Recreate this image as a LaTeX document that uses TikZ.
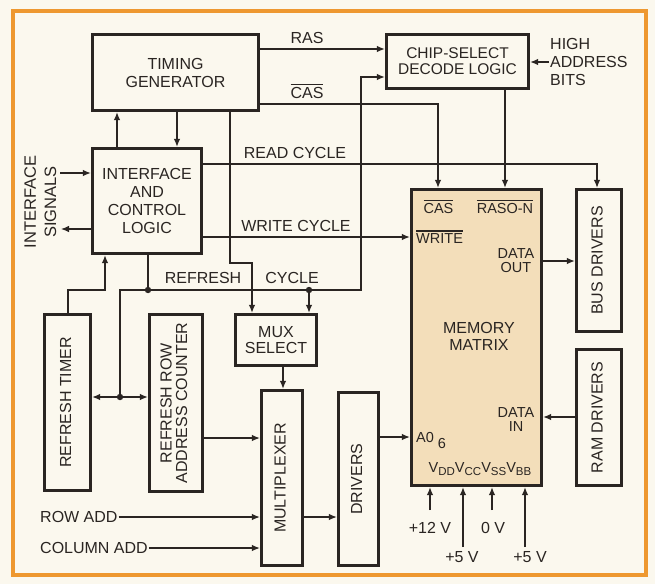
\documentclass[tikz,border=0pt]{standalone}
\usepackage{fontspec}
\setmainfont{Liberation Sans}
\usepackage{graphicx}
\usetikzlibrary{arrows.meta}
\definecolor{ink}{RGB}{42,37,34}
\definecolor{cream}{RGB}{251,248,238}
\definecolor{frame}{RGB}{238,152,48}
\definecolor{memfill}{RGB}{243,222,186}
\newcommand\ovl[1]{\vbox{\hrule height 1.1pt\kern 2pt\hbox{#1}}}
\newcommand\rot[1]{\rotatebox{90}{\begin{tabular}{@{}c@{}}#1\end{tabular}}}
\newcommand\vsub[1]{V\raisebox{-3.5pt}{\fontsize{11.5}{11.5}\selectfont #1}}
\newcommand\fbig{\fontsize{16}{18}\selectfont}
\newcommand\fsmall{\fontsize{14.5}{14}\selectfont}
\tikzset{
  blk/.style={draw=ink, line width=3.4pt, fill=cream, inner sep=0pt, align=center, font=\fbig, text=ink},
  conn/.style={draw=ink, line width=1.1pt},
  arr/.style={conn, -{Latex[length=8pt,width=6.5pt]}},
  lbl/.style={font=\fbig, text=ink, inner sep=1pt},
  mlbl/.style={font=\fsmall, text=ink, inner sep=0pt, align=center},
}
\begin{document}
\begin{tikzpicture}[x=1pt,y=-1pt]
\fill[cream] (0,0) rectangle (655,584);
\useasboundingbox (0,0) rectangle (655,584);
\draw[frame, line width=4pt] (13.3,11.3) rectangle (645.8,574.5);

% blocks
\node[blk, minimum width=166, minimum height=76] (tg) at (175.5,72.5) {TIMING\\GENERATOR};
\node[blk, minimum width=142, minimum height=54, font=\fontsize{15.5}{16}\selectfont] (cs) at (457.5,61.5) {CHIP-SELECT\\DECODE LOGIC};
\node[blk, minimum width=109, minimum height=105] (icl) at (147,201) {INTERFACE\\AND\\CONTROL\\LOGIC};
\node[blk, fill=memfill, minimum width=130, minimum height=296] (mem) at (476.5,337.5) {};
\node[blk, minimum width=45, minimum height=142] (bus) at (599,260.5) {\rot{BUS DRIVERS}};
\node[blk, minimum width=45, minimum height=136] (ram) at (599,417.5) {\rot{RAM DRIVERS}};
\node[blk, minimum width=46, minimum height=176] (rt) at (67.5,402.5) {\rot{REFRESH TIMER}};
\node[blk, minimum width=53, minimum height=177, font=\fontsize{16}{14.5}\selectfont] (rrac) at (176,403) {\rot{REFRESH ROW\\ADDRESS COUNTER}};
\node[blk, minimum width=81, minimum height=51, font=\fontsize{16}{16}\selectfont] (ms) at (276,340) {MUX\\SELECT};
\node[blk, minimum width=41, minimum height=175] (mpx) at (282,478) {\rot{MULTIPLEXER}};
\node[blk, minimum width=40, minimum height=173] (drv) at (358.5,479) {\rot{DRIVERS}};

% memory inner labels
\node[mlbl] at (438.5,207) {\ovl{CAS}};
\node[mlbl] at (505,207) {\ovl{RASO-N}};
\node[mlbl, anchor=west] at (416,237) {\ovl{WRITE}};
\node[mlbl] at (516,261) {DATA\\OUT};
\node[mlbl, font=\fontsize{16}{17}\selectfont] at (479,336) {MEMORY\\MATRIX};
\node[mlbl] at (516,420) {DATA\\IN};
\node[mlbl, anchor=west] at (416,440) {A0\hspace{4pt}\raisebox{-6pt}{6}};
\node[mlbl] at (480,469) {\vsub{DD}\vsub{CC}\vsub{SS}\vsub{BB}};

% outside labels
\node[lbl, align=left, anchor=west, font=\fontsize{16}{18}\selectfont] (hab) at (549,62) {HIGH\\ADDRESS\\BITS};
\node[lbl] at (307,37.5) {RAS};
\node[lbl] at (307,91) {\ovl{CAS}};
\node[lbl] at (295,152.5) {READ CYCLE};
\node[lbl] at (296,226) {WRITE CYCLE};
\node[lbl] at (203,278) {REFRESH};
\node[lbl] at (292,278) {CYCLE};
\node[lbl, font=\fontsize{16.5}{20}\selectfont] (isig) at (42,202) {\rot{INTERFACE\\SIGNALS}};
\node[lbl, anchor=west] (row) at (39,517) {ROW ADD};
\node[lbl, anchor=west] (col) at (39,548) {COLUMN ADD};
\node[lbl] (v12) at (430,528) {+12 V};
\node[lbl] (v5a) at (462,557) {+5 V};
\node[lbl] (v0) at (493,528) {0 V};
\node[lbl] (v5b) at (530,557) {+5 V};

% helper coordinates
\coordinate (rasy) at (0,49);
\coordinate (casb) at (438,104);
\coordinate (csx) at (505,0);
\coordinate (x117) at (117,0);
\coordinate (x177) at (177,0);
\coordinate (tgb) at (230,263);
\coordinate (tgc) at (252,263);
\coordinate (rdc) at (597,164);
\coordinate (wry) at (0,237);
\coordinate (d1) at (148,290);
\coordinate (d2) at (309,290);
\coordinate (rcl) at (120,290);
\coordinate (rcr) at (361,290);
\coordinate (csi) at (361,77);
\coordinate (d3) at (120,397);
\coordinate (t1) at (68,290);
\coordinate (t2) at (105,290);
\coordinate (cy) at (0,438);
\coordinate (msx) at (283,0);
\coordinate (my) at (0,517);
\coordinate (dy) at (0,437);
\coordinate (doy) at (0,261);
\coordinate (diy) at (0,417);
\coordinate (isin) at (60,173);
\coordinate (isout) at (61,229);
\coordinate (p1) at (430,510);
\coordinate (p2) at (463,547);
\coordinate (p3) at (492,510);
\coordinate (p4) at (525,547);

% connectors
\draw[arr] (tg.east |- rasy) -- (cs.west |- rasy);
\draw[arr] (tg.east |- casb) -- (casb) -- (mem.north -| casb);
\draw[arr] (cs.south -| csx) -- (mem.north -| csx);
\draw[arr] (hab.west) -- (cs.east |- hab.west);
\draw[arr] (icl.north -| x117) -- (tg.south -| x117);
\draw[arr] (tg.south -| x177) -- (icl.north -| x177);
\draw[arr] (tg.south -| tgb) -- (tgb) -- (tgc) -- (ms.north -| tgc);
\draw[arr] (icl.east |- rdc) -- (rdc) -- (bus.north -| rdc);
\draw[arr] (icl.east |- wry) -- (mem.west |- wry);
\draw[conn] (icl.south -| d1) -- (d1);
\draw[arr] (d3) -- (rcl) -- (rcr) -- (csi) -- (cs.west |- csi);
\draw[arr] (d2) -- (ms.north -| d2);
\draw[arr] (d3) -- (rt.east |- d3);
\draw[arr] (d3) -- (rrac.west |- d3);
\draw[arr] (rt.north -| t1) -- (t1) -- (t2) -- (icl.south -| t2);
\draw[arr] (rrac.east |- cy) -- (mpx.west |- cy);
\draw[arr] (ms.south -| msx) -- (mpx.north -| msx);
\draw[arr] (row.east) -- (mpx.west |- row.east);
\draw[arr] (col.east) -- (mpx.west |- col.east);
\draw[arr] (mpx.east |- my) -- (drv.west |- my);
\draw[arr] (drv.east |- dy) -- (mem.west |- dy);
\draw[arr] (mem.east |- doy) -- (bus.west |- doy);
\draw[arr] (ram.west |- diy) -- (mem.east |- diy);
\draw[arr] (isin) -- (icl.west |- isin);
\draw[arr] (icl.west |- isout) -- (isout);
\draw[arr] (p1) -- (mem.south -| p1);
\draw[arr] (p2) -- (mem.south -| p2);
\draw[arr] (p3) -- (mem.south -| p3);
\draw[arr] (p4) -- (mem.south -| p4);
\fill[ink] (d1) circle (3.2pt) (d2) circle (3.2pt) (d3) circle (3.2pt);
\end{tikzpicture}
\end{document}
